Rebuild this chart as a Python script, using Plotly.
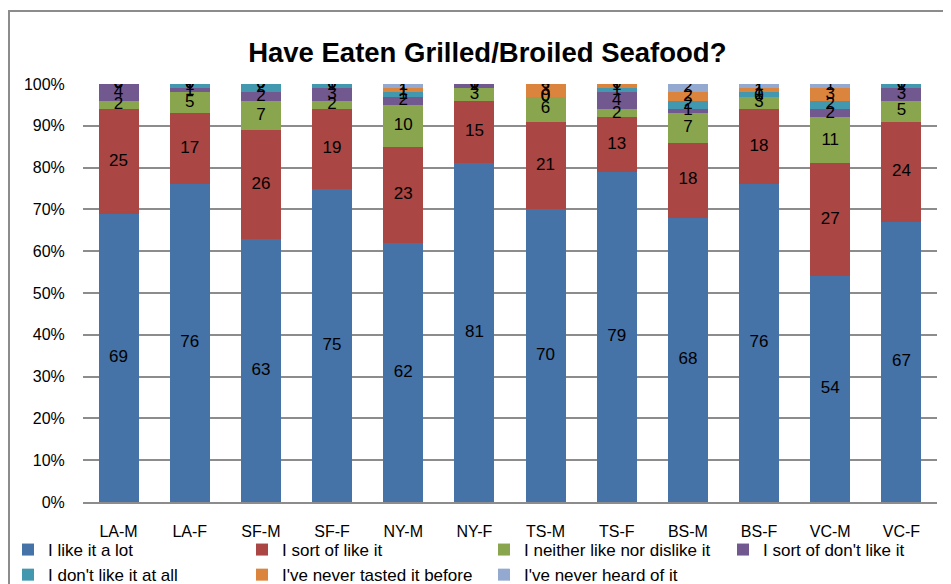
import plotly.graph_objects as go

# survey groups
groups = ["LA-M", "LA-F", "SF-M", "SF-F", "NY-M", "NY-F",
          "TS-M", "TS-F", "BS-M", "BS-F", "VC-M", "VC-F"]

like_lot = [69, 76, 63, 75, 62, 81, 70, 79, 68, 76, 54, 67]
sort_like = [25, 17, 26, 19, 23, 15, 21, 13, 18, 18, 27, 24]
neither = [2, 5, 7, 2, 10, 3, 6, 2, 7, 3, 11, 5]
sort_dislike = [4, 1, 2, 3, 2, 1, 0, 4, 1, 0, 2, 3]
dislike = [0, 1, 2, 1, 1, 0, 0, 1, 2, 1, 2, 1]
never_tasted = [0, 0, 0, 0, 1, 0, 3, 1, 2, 1, 3, 0]
never_heard = [0, 0, 0, 0, 1, 0, 0, 0, 2, 1, 1, 0]

# name, values, colour, legend column
series = [
    ("I like it a lot", like_lot, "#4572A7", "legend"),
    ("I sort of like it", sort_like, "#AA4643", "legend2"),
    ("I neither like nor dislike it", neither, "#89A54E", "legend3"),
    ("I sort of don't like it", sort_dislike, "#71588F", "legend4"),
    ("I don't like it at all", dislike, "#4198AF", "legend"),
    ("I've never tasted it before", never_tasted, "#DB843D", "legend2"),
    ("I've never heard of it", never_heard, "#93A9CF", "legend3"),
]

font = "Liberation Sans Narrow, Liberation Sans, Arial"
fig = go.Figure()

base = [0] * len(groups)
label_x, label_y, label_t = [], [], []
for name, vals, col, leg in series:
    fig.add_trace(go.Bar(x=groups, y=vals, name=name, marker_color=col,
                         marker_line_width=0, legend=leg))
    for i, v in enumerate(vals):
        label_x.append(groups[i])
        label_y.append(base[i] + v / 2)
        label_t.append(str(v))
        base[i] += v

fig.add_trace(go.Scatter(x=label_x, y=label_y, text=label_t, mode="text",
                         textfont=dict(size=17, color="black", family=font),
                         showlegend=False, hoverinfo="skip"))

PL, PT, PW, PH = 75, 76, 854, 418  # plot area in figure pixels
PB = PT + PH


def leg(xpx):
    return dict(orientation="v", x=(xpx - PL) / PW, xanchor="left",
                yref="container", y=1 - 524 / 584, yanchor="top",
                traceorder="normal", font=dict(size=17, family=font),
                itemwidth=30, tracegroupgap=0, bgcolor="rgba(0,0,0,0)")


fig.update_layout(
    barmode="stack",
    bargap=0.438,
    width=951, height=584,
    margin=dict(l=PL, r=951 - PL - PW, t=PT, b=584 - PB),
    plot_bgcolor="white", paper_bgcolor="white",
    title=dict(text="<b>Have Eaten Grilled/Broiled Seafood?</b>",
               x=0.504, xanchor="center", y=0.9234, yanchor="middle",
               font=dict(size=27.5, family="Liberation Sans, Arial", color="black")),
    font=dict(family=font, size=16, color="black"),
    legend=leg(0), legend2=leg(234), legend3=leg(476), legend4=leg(715),
    shapes=[dict(type="rect", xref="paper", yref="paper",
                 x0=(1 - PL) / PW, x1=1.2, y0=-0.4, y1=(PB - 3) / PH,
                 line=dict(color="#8c8c8c", width=2))],
)
fig.update_yaxes(range=[0, 100], dtick=10, ticksuffix="%",
                 showgrid=True, gridcolor="#8c8c8c", gridwidth=1.5,
                 showline=False, ticks="outside", ticklen=14,
                 tickcolor="rgba(0,0,0,0)", zeroline=False,
                 tickfont=dict(size=16), automargin=False)
fig.update_xaxes(range=[-0.5, len(groups) - 0.5],
                 showline=True, linecolor="#8c8c8c", linewidth=1.5,
                 ticks="outside", tickcolor="rgba(0,0,0,0)", ticklen=14,
                 tickfont=dict(size=16), automargin=False)

fig.write_html("out.html")
